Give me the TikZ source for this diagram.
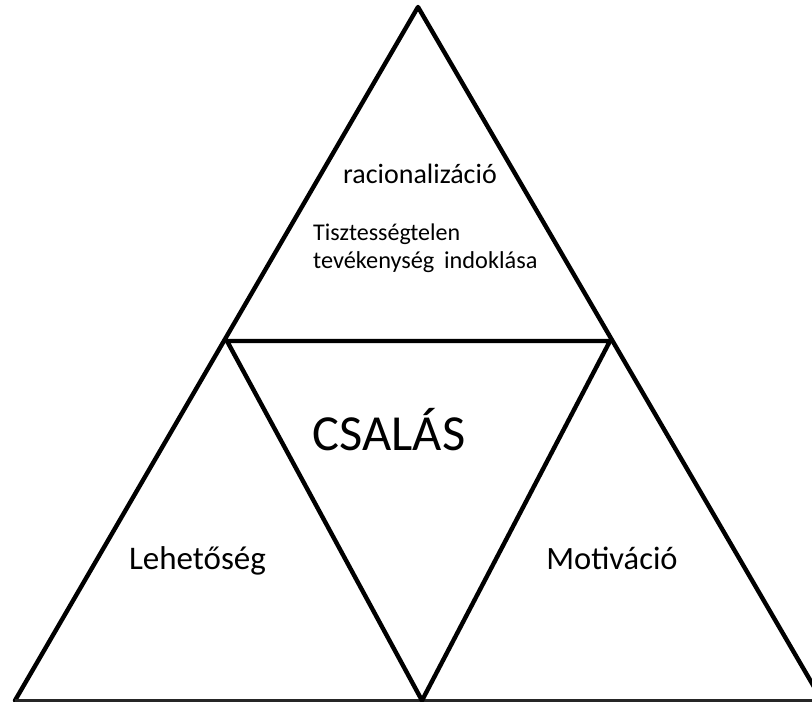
\documentclass[tikz,border=0pt]{standalone}
\usepackage{fontspec}
\setmainfont{Carlito}
\begin{document}
\begin{tikzpicture}[x=1pt,y=-1pt,
  edge/.style={line width=4.4pt,line join=round,line cap=round},
  baseedge/.style={line width=2.2pt,draw=black!85},
  lbl/.style={inner sep=0pt,anchor=base,text=black}]
\useasboundingbox (0,0) rectangle (812,702);
\clip (0,0) rectangle (812,702);
% corner points of the outer triangle and the inner (inverted) triangle
\coordinate (apex) at (418,7);
\coordinate (bl) at (15,700.5);
\coordinate (br) at (822,700.5);
\coordinate (ml) at (227,341);
\coordinate (mr) at (610,341);
\coordinate (bm) at (422,700.5);
% outer triangle
\draw[edge] (bl) -- (apex) -- (br);
\draw[baseedge] (bl) -- (br);
% inner triangle
\draw[edge] (ml) -- (mr) -- (bm) -- cycle;
% labels
\node[lbl] (rac) at (420,183) {\fontsize{28}{34}\selectfont racionalizáció};
\node[lbl,anchor=base west] (desc1) at (313,240) {\fontsize{24}{29}\selectfont Tisztességtelen};
\node[lbl,anchor=base west] (desc2) at (313,268) {\fontsize{24.3}{29}\selectfont tevékenység\hspace{0.4em}indoklása};
\node[lbl] (csalas) at (389,450) {\fontsize{50.5}{60}\selectfont CSALÁS};
\node[lbl] (leh) at (197.5,569) {\fontsize{33}{39}\selectfont Lehetőség};
\node[lbl] (mot) at (612,569) {\fontsize{32.5}{39}\selectfont Motiváció};
\end{tikzpicture}
\end{document}
